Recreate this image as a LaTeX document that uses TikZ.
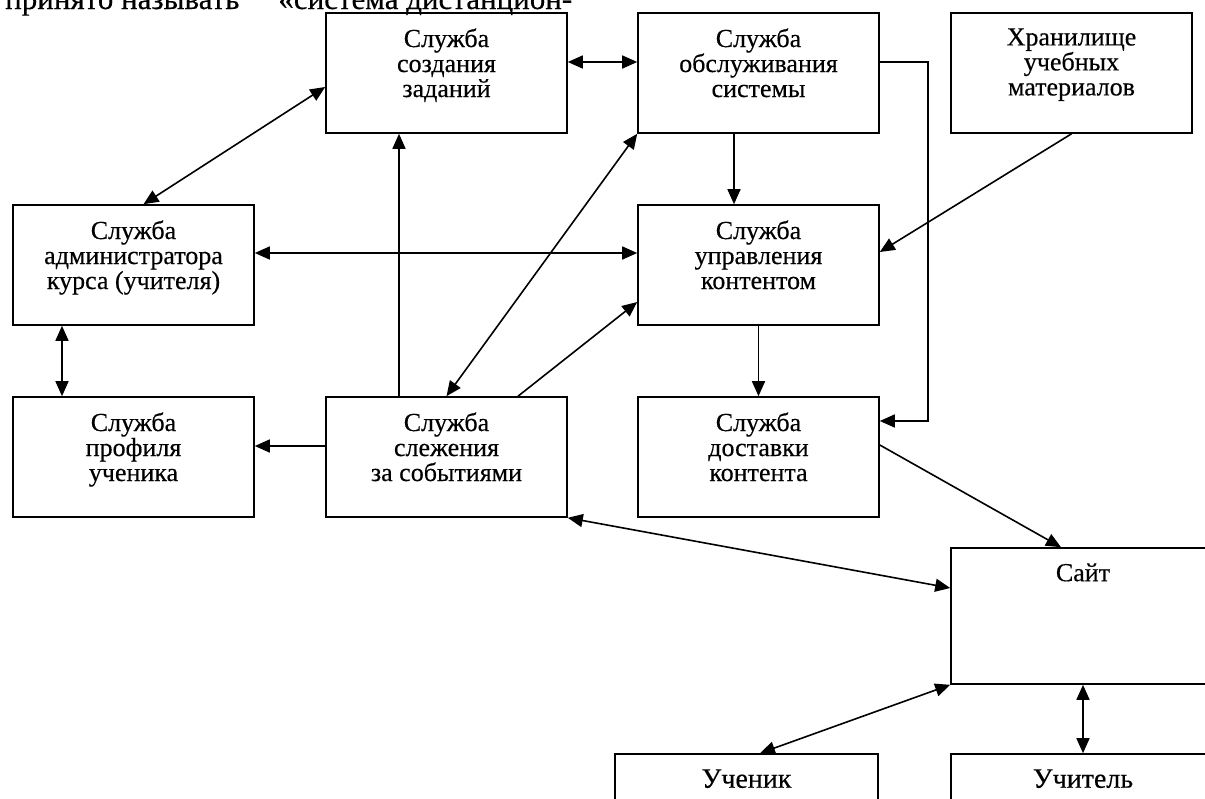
\documentclass[tikz,border=0pt]{standalone}
\usepackage{fontspec}
\setmainfont{Liberation Serif}
\usetikzlibrary{arrows.meta}

\begin{document}
\begin{tikzpicture}[x=1pt, y=-1pt,
    box/.style={draw, line width=1.6pt, minimum width=241pt, minimum height=120pt, inner sep=0pt},
    txt/.style={anchor=north, align=center, inner sep=0pt, yshift=-16pt},
    link/.style={line width=1.6pt, -{Triangle[length=15pt, width=13pt]}},
    both/.style={line width=1.6pt, {Triangle[length=15pt, width=13pt]}-{Triangle[length=15pt, width=13pt]}},
    every node/.style={font=\fontsize{26}{25}\selectfont\addfontfeature{FakeBold=0.4}}
]
\useasboundingbox (0,0) rectangle (1205,798);
\clip (0,0) rectangle (1205,798);

% text of the page above the figure
\node[anchor=base west, inner sep=0pt, font=\fontsize{31}{31}\selectfont\addfontfeature{FakeBold=0.4}] (intro) at (5,9)
    {принято называть\hspace{39pt}«система дистанцион-};

% first row
\node[box, label={[txt]north:Служба\\создания\\заданий}] (tasks) at (446.5,73) {};
\node[box, label={[txt]north:Служба\\обслуживания\\системы}] (maint) at (758.5,73) {};
\node[box, label={[txt]north:Хранилище\\учебных\\материалов}] (store) at (1071.5,73) {};
% second row
\node[box, label={[txt]north:Служба\\администратора\\курса (учителя)}] (admin) at (133.5,265) {};
\node[box, label={[txt]north:Служба\\управления\\контентом}] (content) at (758.5,265) {};
% third row
\node[box, label={[txt]north:Служба\\профиля\\ученика}] (profile) at (133.5,457) {};
\node[box, label={[txt]north:Служба\\слежения\\за событиями}] (events) at (446.5,457) {};
\node[box, label={[txt]north:Служба\\доставки\\контента}] (delivery) at (758.5,457) {};
% site and users
\node[box, minimum width=264pt, minimum height=136pt, label={[txt]north:Сайт}] (site) at (1083,616) {};
\node[box, minimum width=263pt, label={[txt, font=\fontsize{28}{28}\selectfont\addfontfeature{FakeBold=0.4}]north:Ученик}] (student) at (746.5,814) {};
\node[box, minimum width=264pt, label={[txt, font=\fontsize{28}{28}\selectfont\addfontfeature{FakeBold=0.4}]north:Учитель}] (teacher) at (1083,814) {};

\draw[both] ([xshift=10pt]admin.north) -- ([yshift=-14pt]tasks.west);
\draw[both] ([yshift=11pt]tasks.east) -- ([yshift=11pt]maint.west);
\draw[link] ([xshift=-47.5pt]events.north) -- ([xshift=-47.5pt]tasks.south);
\draw[both] (maint.south west) -- (events.north);
\draw[link] ([xshift=71.5pt]events.north) -- ([yshift=-37pt]content.west);
\draw[both] ([yshift=12pt]admin.east) -- ([yshift=12pt]content.west);
\draw[link] ([xshift=-24.5pt]maint.south) -- ([xshift=-24.5pt]content.north);
\draw[link] (store.south) -- ([yshift=13pt]content.east);
\draw[link] (content.south) -- (delivery.north);
\draw[link] ([yshift=11pt]maint.east) -- ++(48,0) |- ([yshift=36pt]delivery.east);
\draw[link] ([yshift=11pt]events.west) -- ([yshift=11pt]profile.east);
\draw[both] ([xshift=-71.5pt]admin.south) -- ([xshift=-71.5pt]profile.north);
\draw[link] ([yshift=12pt]delivery.east) -- ([xshift=-22pt]site.north);
\draw[both] (events.south east) -- ([yshift=28pt]site.west);
\draw[both] (site.south west) -- ([xshift=13.5pt]student.north);
\draw[both] (site.south) -- (teacher.north);
\end{tikzpicture}
\end{document}
